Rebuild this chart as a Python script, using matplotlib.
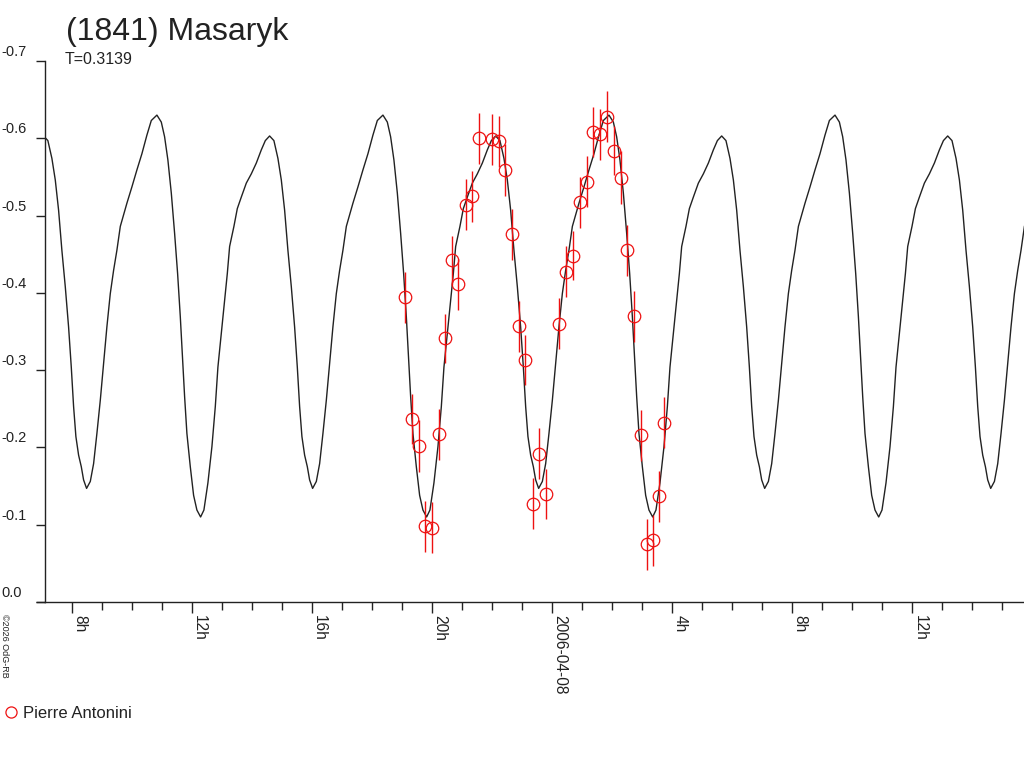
import numpy as np
import matplotlib
matplotlib.use("Agg")
import matplotlib.pyplot as plt
import matplotlib.transforms as mtransforms
from matplotlib.lines import Line2D
from matplotlib.ticker import FixedLocator, MultipleLocator

plt.rcParams['font.family'] = ['Liberation Sans', 'DejaVu Sans']

# ---------------- data ----------------
title = "(1841) Masaryk"
period_label = "T=0.3139"
period_days = 0.3139
epoch_h = -4.19          # hours from 2006-04-08 00:00 of a deep minimum of the model curve

# model lightcurve, one period: phase (h) after deep minimum, magnitude
curve_phase_h = [0.00, 0.11, 0.243, 0.377, 0.49, 0.577, 0.69, 0.80, 0.89, 0.967,
                 1.11, 1.223, 1.357, 1.523, 1.69, 1.857, 2.023, 2.157, 2.30, 2.443,
                 2.577, 2.69, 2.80, 2.91, 3.023, 3.133, 3.223, 3.30, 3.377, 3.467,
                 3.557, 3.633, 3.733, 3.857, 3.967, 4.077, 4.19, 4.30, 4.41, 4.523,
                 4.633, 4.743, 4.857, 4.967, 5.077, 5.243, 5.41, 5.577, 5.743, 5.89,
                 6.077, 6.223, 6.333, 6.443, 6.557, 6.667, 6.767, 6.857, 6.933, 7.00,
                 7.077, 7.19, 7.30, 7.41]
curve_mag = [-0.110, -0.119, -0.154, -0.201, -0.253, -0.304, -0.348, -0.391, -0.425, -0.460,
             -0.486, -0.509, -0.524, -0.542, -0.554, -0.568, -0.585, -0.597, -0.603, -0.597,
             -0.574, -0.546, -0.507, -0.455, -0.408, -0.356, -0.304, -0.253, -0.214, -0.190,
             -0.175, -0.158, -0.147, -0.156, -0.179, -0.218, -0.261, -0.309, -0.356, -0.399,
             -0.429, -0.455, -0.486, -0.501, -0.516, -0.537, -0.559, -0.580, -0.604, -0.623,
             -0.630, -0.621, -0.602, -0.572, -0.529, -0.477, -0.425, -0.369, -0.313, -0.266,
             -0.218, -0.175, -0.138, -0.119]

# observations (Pierre Antonini): hours from 2006-04-08 00:00, magnitude, error
obs_h = [-4.91, -4.667, -4.443, -4.243, -4.00, -3.787, -3.567, -3.343, -3.133, -2.887,
         -2.667, -2.453, -2.01, -1.787, -1.567, -1.333, -1.10, -0.90, -0.653, -0.443,
         -0.21, 0.233, 0.467, 0.70, 0.923, 1.147, 1.367, 1.60, 1.823, 2.057,
         2.28, 2.50, 2.723, 2.967, 3.147, 3.367, 3.547, 3.733]
obs_mag = [-0.394, -0.237, -0.202, -0.098, -0.096, -0.217, -0.341, -0.442, -0.411, -0.514,
           -0.525, -0.600, -0.599, -0.596, -0.559, -0.476, -0.357, -0.313, -0.127, -0.192,
           -0.140, -0.360, -0.427, -0.448, -0.517, -0.544, -0.608, -0.605, -0.628, -0.584,
           -0.549, -0.455, -0.370, -0.216, -0.075, -0.080, -0.137, -0.232]
obs_err = [0.033, 0.032, 0.034, 0.033, 0.033, 0.033, 0.032, 0.032, 0.033, 0.033,
           0.033, 0.033, 0.033, 0.033, 0.034, 0.033, 0.033, 0.032, 0.033, 0.033,
           0.032, 0.033, 0.033, 0.032, 0.033, 0.033, 0.032, 0.033, 0.033, 0.032,
           0.034, 0.033, 0.033, 0.033, 0.033, 0.033, 0.033, 0.033]
observer = "Pierre Antonini"

x_major_ticks = [-16, -12, -8, -4, 0, 4, 8, 12]
x_major_labels = ["8h", "12h", "16h", "20h", "2006-04-08", "4h", "8h", "12h"]
y_ticks = [0.0, -0.1, -0.2, -0.3, -0.4, -0.5, -0.6, -0.7]
y_labels = ["0.0", "-0.1", "-0.2", "-0.3", "-0.4", "-0.5", "-0.6", "-0.7"]
copyright_text = "\u00a92026 OdG-RB"

# ---------------- figure ----------------
W, H = 1024, 768
fig = plt.figure(figsize=(W / 100, H / 100), dpi=100)
ax_left, ax_bottom_px, ax_top_px = 45.3, 602, 61
ax = fig.add_axes([ax_left / W, 1 - ax_bottom_px / H, (W - ax_left) / W,
                   (ax_bottom_px - ax_top_px) / H])

P = period_days * 24.0
ph = np.asarray(curve_phase_h)
mg = np.asarray(curve_mag)
cx = np.concatenate([epoch_h + k * P + ph for k in range(-3, 4)])
cy = np.concatenate([mg for k in range(-3, 4)])

ink = "#222222"
red = "#ee1111"
ax.plot(cx, cy, color=ink, lw=1.0, zorder=2)
ax.errorbar(obs_h, obs_mag, yerr=obs_err, fmt='o', mfc='none', mec=red,
            ms=9, mew=0.9, ecolor=red, elinewidth=1.0, capsize=0, zorder=3)

ax.set_xlim(-16.9, 15.72)
ax.set_ylim(0.0, -0.7)

for s in ("top", "right"):
    ax.spines[s].set_visible(False)
for s in ("left", "bottom"):
    ax.spines[s].set_color(ink)
    ax.spines[s].set_linewidth(1.0)

# x-axis extends a little left of y axis
ax.plot([-9 / (W - ax_left), 0], [0, 0], transform=ax.transAxes, color=ink,
        lw=1.0, clip_on=False, solid_capstyle='butt')

ax.xaxis.set_major_locator(FixedLocator(x_major_ticks))
ax.xaxis.set_minor_locator(MultipleLocator(1))
ax.set_xticklabels(x_major_labels)
ax.tick_params(axis='x', which='major', direction='out', length=8, width=1.0,
               color=ink, pad=1.2, labelsize=11.2, labelcolor=ink)
ax.tick_params(axis='x', which='minor', direction='out', length=5.8, width=1.0, color=ink)
for lab in ax.get_xticklabels():
    lab.set_rotation(270)
    lab.set_ha('left')
    lab.set_va('top')

ax.set_yticks(y_ticks)
ax.tick_params(axis='y', which='major', direction='out', length=6.5, width=1.0,
               color=ink, labelleft=False)
ytrans = mtransforms.offset_copy(ax.get_yaxis_transform(), fig=fig, x=0, y=2, units='dots')
for v, lab in zip(y_ticks, y_labels):
    ax.text((1 - ax_left) / (W - ax_left), v, lab, transform=ytrans, ha='left',
            va='bottom', fontsize=10.5, color=ink, clip_on=False)

# title and period
fig.text(66 / W, 1 - 40 / H, title, fontsize=23, color=ink, ha='left', va='baseline')
fig.text(65 / W, 1 - 63.5 / H, period_label, fontsize=11.5, color=ink, ha='left',
         va='baseline')

# copyright (vertical, tiny)
fig.text(4 / W, 1 - 614 / H, copyright_text, fontsize=6.5, color=ink, rotation=270,
         ha='center', va='top')

# legend
handle = Line2D([], [], marker='o', ls='none', mfc='none', mec=red, ms=8, mew=0.9)
fig.legend([handle], [observer], loc='center left', bbox_to_anchor=(2 / W, 1 - 713 / H),
           frameon=False, handlelength=0.7, handletextpad=0.35, borderaxespad=0,
           borderpad=0.2, fontsize=12, labelcolor=ink)

fig.savefig("out.png", dpi=100, facecolor='white')
